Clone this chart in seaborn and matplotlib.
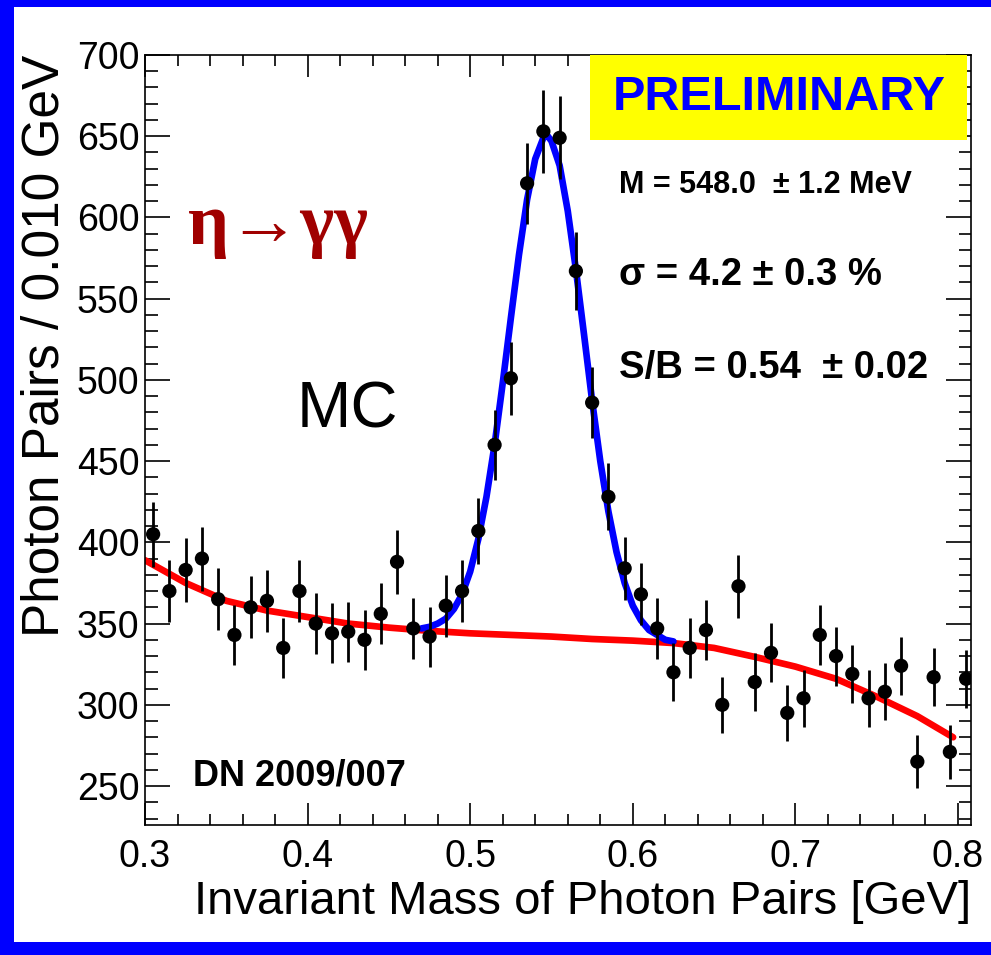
import numpy as np
import pandas as pd
import seaborn as sns
import matplotlib
matplotlib.use("Agg")
import matplotlib.pyplot as plt
from matplotlib.patches import Rectangle
from matplotlib.ticker import MultipleLocator

# ---- data ----
mass = [0.305, 0.315, 0.325, 0.335, 0.345, 0.355, 0.365, 0.375, 0.385, 0.395,
        0.405, 0.415, 0.425, 0.435, 0.445, 0.455, 0.465, 0.475, 0.485, 0.495,
        0.505, 0.515, 0.525, 0.535, 0.545, 0.555, 0.565, 0.575, 0.585, 0.595,
        0.605, 0.615, 0.625, 0.635, 0.645, 0.655, 0.665, 0.675, 0.685, 0.695,
        0.705, 0.715, 0.725, 0.735, 0.745, 0.755, 0.765, 0.775, 0.785, 0.795,
        0.805]
counts = [405, 370, 383, 390, 365, 343, 360, 364, 335, 370,
          350, 344, 345, 340, 356, 388, 347, 342, 361, 370,
          407, 460, 501, 621, 653, 649, 567, 486, 428, 384,
          368, 347, 320, 335, 346, 300, 373, 314, 332, 295,
          304, 343, 330, 319, 304, 308, 324, 265, 317, 271,
          316]

bkg_x = [0.300, 0.325, 0.350, 0.375, 0.400, 0.425, 0.450, 0.475, 0.500, 0.525,
         0.550, 0.575, 0.600, 0.625, 0.650, 0.675, 0.700, 0.725, 0.750, 0.775,
         0.797]
bkg_y = [389, 375, 364, 358, 354, 350, 347.5, 345.5, 344, 343,
         342, 340.5, 339.5, 338, 335, 329.5, 323.5, 316, 305, 293,
         280]

fit_x = [0.470, 0.475, 0.480, 0.485, 0.490, 0.495, 0.500, 0.505, 0.510, 0.515,
         0.520, 0.525, 0.530, 0.535, 0.540, 0.545, 0.547, 0.550, 0.555, 0.560,
         0.565, 0.570, 0.575, 0.580, 0.585, 0.590, 0.595, 0.600, 0.605, 0.610,
         0.615, 0.620, 0.625]
fit_y = [347, 348, 350, 353, 359, 368, 382, 402, 428, 460,
         498, 538, 577, 611, 636, 649, 651, 647, 632, 604,
         568, 528, 487, 450, 419, 394, 375, 361, 352, 346,
         343, 340, 339]

x_ticks = [0.3, 0.4, 0.5, 0.6, 0.7, 0.8]
y_ticks = [250, 300, 350, 400, 450, 500, 550, 600, 650, 700]

df = pd.DataFrame({"mass": mass, "counts": counts})
df["err"] = np.sqrt(df["counts"])

sns.set_theme(style="ticks")
plt.rcParams["font.family"] = ["Liberation Sans", "DejaVu Sans"]
plt.rcParams["text.color"] = "black"
plt.rcParams["axes.labelcolor"] = "black"
plt.rcParams["xtick.color"] = "black"
plt.rcParams["ytick.color"] = "black"

W, H = 991, 955
fig = plt.figure(figsize=(W / 100, H / 100), dpi=100)
fig.patch.set_facecolor("#0000ff")
fig.add_artist(Rectangle((14 / W, 13 / H), 1 - 14 / W, 1 - 20 / H,
                         transform=fig.transFigure, facecolor="white",
                         edgecolor="none", zorder=-5))

ax = fig.add_axes([145 / W, 130 / H, 826 / W, 770 / H])
ax.set_facecolor("white")

sns.lineplot(x=bkg_x, y=bkg_y, color="#ff0000", linewidth=4.8, ax=ax,
             legend=False, zorder=2)
sns.lineplot(x=fit_x, y=fit_y, color="#0000ff", linewidth=4.8, ax=ax,
             legend=False, zorder=3)
ax.errorbar(df["mass"], df["counts"], yerr=df["err"], fmt="none",
            ecolor="black", elinewidth=2.0, capsize=0, zorder=4)
sns.scatterplot(data=df, x="mass", y="counts", color="black", s=105,
                edgecolor="none", ax=ax, zorder=5)

ax.set_xlim(0.3, 0.808)
ax.set_ylim(226, 700)
ax.set_xticks(x_ticks)
ax.set_xticklabels([f"{v:.1f}" for v in x_ticks])
ax.set_yticks(y_ticks)
ax.set_yticklabels([str(v) for v in y_ticks])
ax.xaxis.set_minor_locator(MultipleLocator(0.02))
ax.yaxis.set_minor_locator(MultipleLocator(10))
ax.tick_params(axis="both", which="both", direction="in", top=True,
               right=True, width=1.2, color="black", labelcolor="black")
ax.tick_params(axis="x", which="major", length=16, labelsize=27, pad=10)
ax.tick_params(axis="x", which="minor", length=8)
ax.tick_params(axis="y", which="major", length=18, labelsize=27, pad=4)
ax.tick_params(axis="y", which="minor", length=9)
for s in ax.spines.values():
    s.set_color("black")
    s.set_linewidth(1.2)

ax.set_xlabel("Invariant Mass of Photon Pairs [GeV]", fontsize=34,
              color="black")
ax.xaxis.set_label_coords(1.0, -0.1)
ax.xaxis.label.set_horizontalalignment("right")
ax.xaxis.label.set_verticalalignment("center")
ax.set_ylabel("Photon Pairs / 0.010 GeV", fontsize=37, color="black")
ax.yaxis.set_label_coords(-0.121, 1.0)
ax.yaxis.label.set_verticalalignment("center")
ax.yaxis.label.set_horizontalalignment("right")


def fx(px):
    return px / W


def fy(py):
    return 1 - py / H


# PRELIMINARY box
fig.add_artist(Rectangle((fx(590), fy(140)), (967 - 590) / W, (140 - 55) / H,
                         transform=fig.transFigure, facecolor="#ffff00",
                         edgecolor="none", zorder=10))
fig.text(fx(779), fy(97), "PRELIMINARY", color="#0000ff", fontsize=35,
         fontweight="bold", ha="center", va="center", zorder=11)

fig.text(fx(619), fy(193), "M = 548.0  \u00b1 1.2 MeV", fontsize=22,
         fontweight="bold", ha="left", va="baseline", zorder=11)
fig.text(fx(619), fy(285), "\u03c3 = 4.2 \u00b1 0.3 %", fontsize=27.5,
         fontweight="bold", ha="left", va="baseline", zorder=11)
fig.text(fx(619), fy(378), "S/B = 0.54  \u00b1 0.02", fontsize=27.5,
         fontweight="bold", ha="left", va="baseline", zorder=11)

fig.text(fx(188), fy(244), "\u03b7\u2192\u03b3\u03b3", fontsize=52,
         color="#a00000", family=["Liberation Serif", "DejaVu Serif"],
         fontweight="bold", ha="left", va="baseline", zorder=11)
fig.text(fx(297), fy(427), "MC", fontsize=47, color="black",
         ha="left", va="baseline", zorder=11)
fig.text(fx(193), fy(785), "DN 2009/007", fontsize=26, fontweight="bold",
         color="black", ha="left", va="baseline", zorder=11)

fig.savefig("out.png", dpi=100)
